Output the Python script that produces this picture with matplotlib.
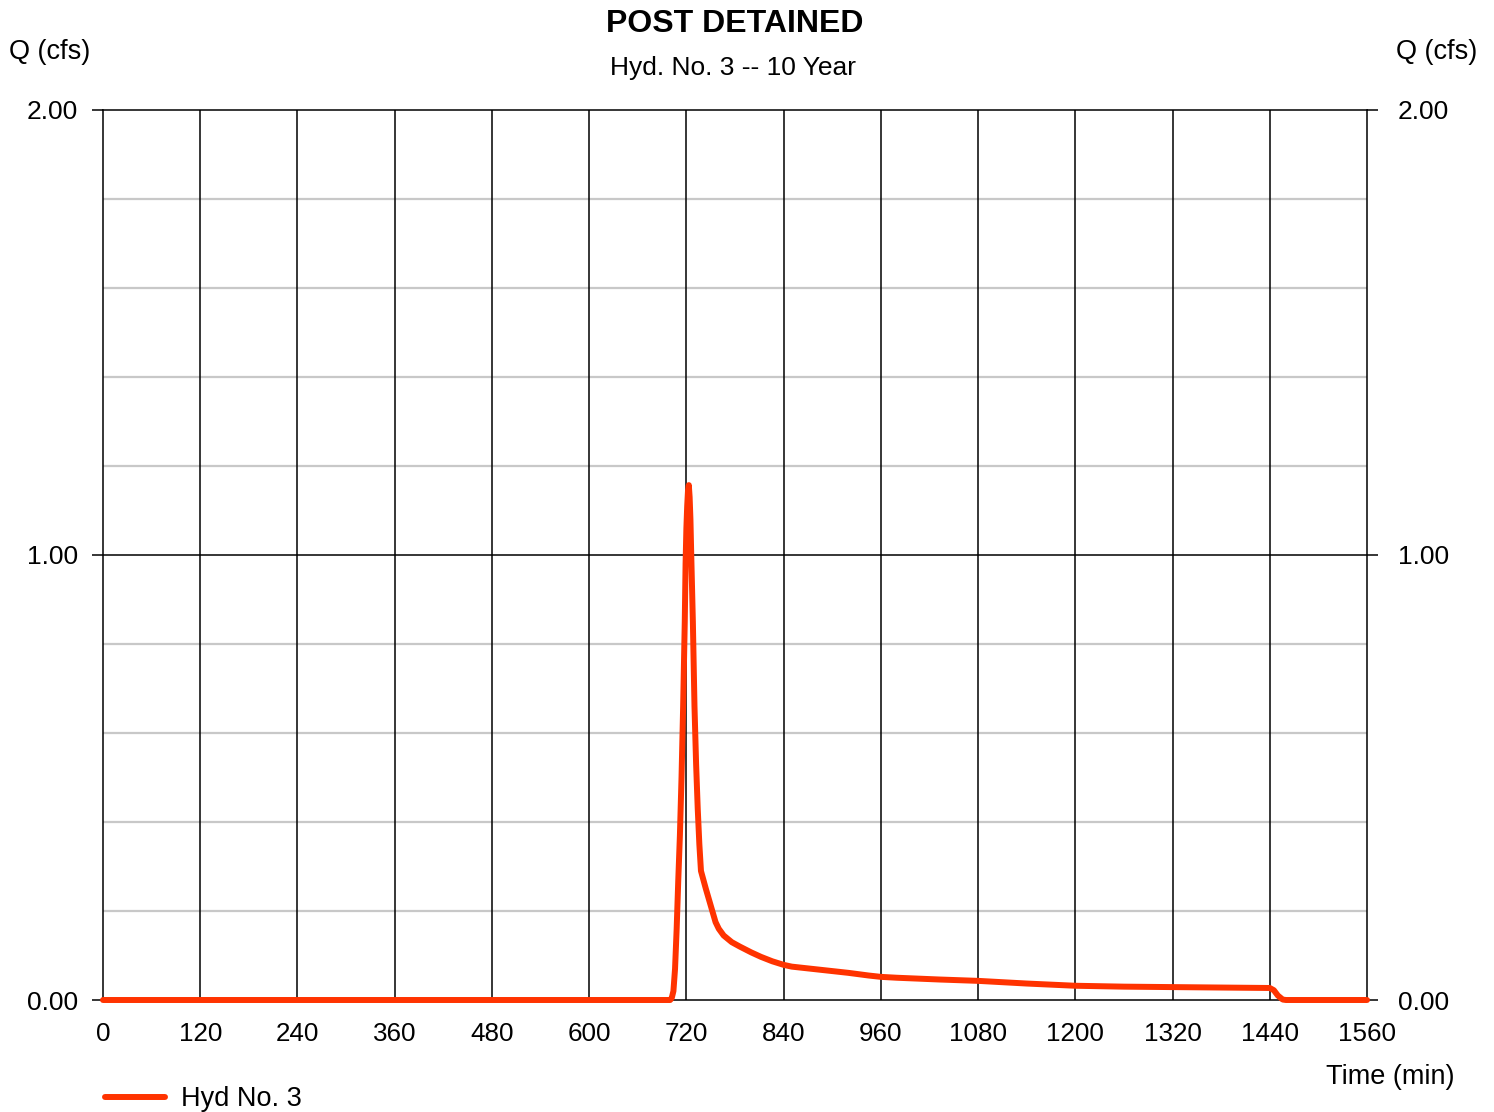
import matplotlib
matplotlib.use("Agg")
import matplotlib.pyplot as plt

plt.rcParams['font.family'] = ['Liberation Sans', 'DejaVu Sans']

title = "POST DETAINED"
subtitle = "Hyd. No. 3 -- 10 Year"
series_name = "Hyd No. 3"

time_min = [0, 700, 702, 704, 706, 708, 710, 712, 714, 716, 718, 719, 720, 721, 722, 723,
            724, 725, 726, 728, 730, 732, 734, 736, 738, 744, 752, 756, 760, 766, 776, 786,
            800, 812, 826, 840, 850, 870, 890, 920, 945, 960, 980, 1033, 1080, 1140, 1200,
            1260, 1320, 1380, 1440, 1445, 1450, 1456, 1460, 1560]
flow_cfs = [0, 0, 0.005, 0.02, 0.07, 0.16, 0.27, 0.37, 0.5, 0.66, 0.85, 0.98, 1.06, 1.11, 1.145, 1.157,
            1.13, 1.08, 1.0, 0.85, 0.66, 0.53, 0.43, 0.35, 0.29, 0.25, 0.20, 0.175, 0.16, 0.145, 0.13, 0.12,
            0.107, 0.097, 0.087, 0.079, 0.075, 0.071, 0.067, 0.061, 0.055, 0.052, 0.05, 0.046, 0.043, 0.037, 0.032,
            0.030, 0.029, 0.028, 0.027, 0.022, 0.01, 0.001, 0, 0]

x_ticks = list(range(0, 1561, 120))
y_ticks = [0.0, 1.0, 2.0]

fig = plt.figure(figsize=(14.94, 11.12), dpi=100)
W, H = 1494, 1112
L, R, T, B = 103, 1367, 110, 1000
ax = fig.add_axes([L / W, 1 - B / H, (R - L) / W, (B - T) / H])

ax.set_xlim(0, 1560)
ax.set_ylim(0, 2)

# right-hand axis for the mirrored labels (drawn beneath the main axes)
axr = ax.twinx()
axr.set_ylim(0, 2)
axr.set_yticks(y_ticks)
axr.set_yticklabels(["%.2f" % v for v in y_ticks])
axr.tick_params(axis='y', length=8, width=1.1, direction='out', labelsize=19, pad=14)
for s in axr.spines.values():
    s.set_visible(False)
axr.set_zorder(0)
ax.set_zorder(1)
ax.patch.set_visible(False)

# grid
for yv in [0.2, 0.4, 0.6, 0.8, 1.2, 1.4, 1.6, 1.8]:
    ax.axhline(yv, color='#c8c8c8', lw=1.6, zorder=1)
ax.axhline(1.0, color='black', lw=1.1, zorder=1.5)
for xv in x_ticks[1:-1]:
    ax.axvline(xv, color='black', lw=1.1, zorder=1.5)

ax.plot(time_min, flow_cfs, color='#ff3300', lw=4.3, solid_capstyle='round',
        solid_joinstyle='round', zorder=3, clip_on=False)

for s in ax.spines.values():
    s.set_linewidth(1.1)

ax.set_xticks(x_ticks)
ax.set_xticklabels([str(v) for v in x_ticks])
ax.set_yticks(y_ticks)
ax.set_yticklabels(["%.2f" % v for v in y_ticks])
ax.tick_params(axis='x', length=0, pad=16, labelsize=18.7)
ax.tick_params(axis='y', which='both', length=8, width=1.1, direction='out',
               labelsize=19, pad=10, left=True, right=False)

fig.text(735 / W, 1 - 24 / H, title, ha='center', va='center', fontsize=23, fontweight='bold')
fig.text(733 / W, 1 - 68 / H, subtitle, ha='center', va='center', fontsize=19)
fig.text(50 / W, 1 - 52 / H, "Q (cfs)", ha='center', va='center', fontsize=19.5)
fig.text(1437 / W, 1 - 52 / H, "Q (cfs)", ha='center', va='center', fontsize=19.5)
fig.text(1455 / W, 1 - 1077 / H, "Time (min)", ha='right', va='center', fontsize=19.5)

# legend
fig.add_artist(plt.Line2D([105 / W, 165 / W], [1 - 1097 / H, 1 - 1097 / H],
                          color='#ff3300', lw=4.3, solid_capstyle='round'))
fig.text(181 / W, 1 - 1099 / H, series_name, ha='left', va='center', fontsize=19.5)

fig.savefig("out.png", dpi=100)
